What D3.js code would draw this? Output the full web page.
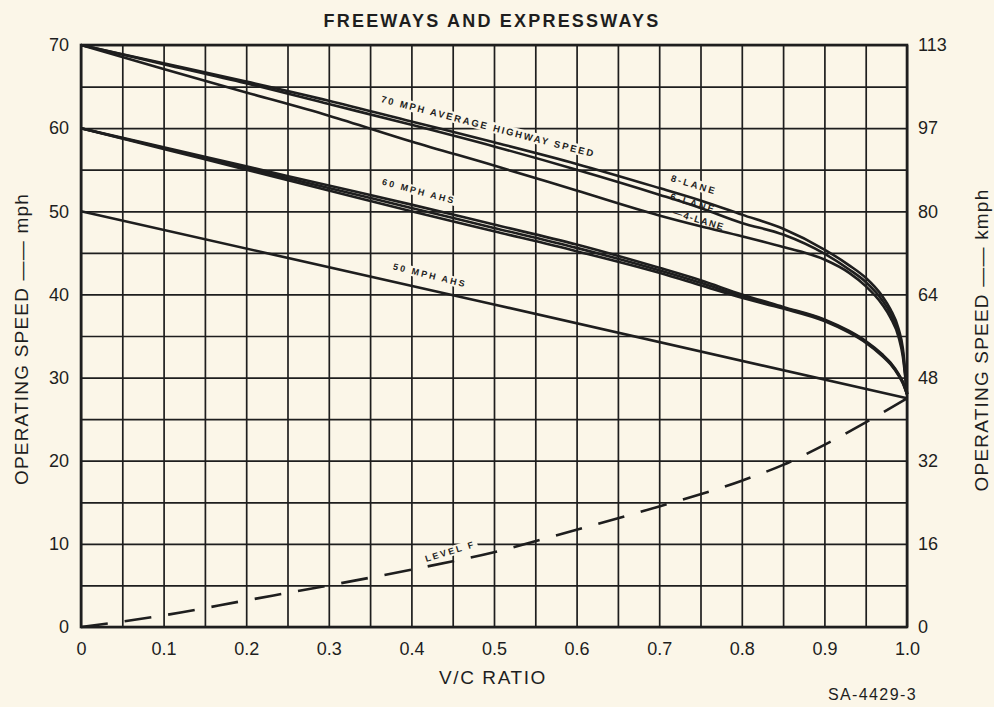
<!DOCTYPE html>
<html><head><meta charset="utf-8">
<script src="https://cdn.jsdelivr.net/npm/d3@7"></script>
<style>
html,body{margin:0;padding:0;background:#fbf6e8;}
svg{display:block;}
text{font-family:"Liberation Sans",Arial,Helvetica,sans-serif;fill:#1e1e1e;}
</style></head><body>
<svg id="c" width="994" height="707"></svg>
<script>
// ---- data ----
const vcTicks = [0,0.1,0.2,0.3,0.4,0.5,0.6,0.7,0.8,0.9,1.0];
const vcTickLabels = ["0","0.1","0.2","0.3","0.4","0.5","0.6","0.7","0.8","0.9","1.0"];
const mphTicks = [0,10,20,30,40,50,60,70];
const kmphLabels = ["0","16","32","48","64","80","97","113"];
const vcGrid = d3.range(0,21).map(i=>i/20);
const mphGrid = d3.range(0,15).map(i=>i*5);

const vcCurve = [0,0.1,0.2,0.3,0.4,0.5,0.6,0.7,0.75,0.8,0.85,0.9,0.93,0.95,0.97,0.98,0.99,0.995,1.0];
const mph70Lane8 = [70,67.8,65.6,63.3,60.8,58.3,55.7,52.8,51.3,49.6,47.9,45.4,43.5,42.0,39.8,38.2,35.8,33.5,28];
const mph70Lane6 = [70,67.7,65.4,62.9,60.4,57.8,55.0,52.0,50.4,48.6,47.2,44.9,43.0,41.5,39.3,37.7,35.2,33.0,28];
const mph70Lane4 = [70,67.1,64.3,61.5,58.4,55.5,52.5,49.5,48.2,47.0,45.7,44.2,42.6,41.0,38.8,37.2,34.8,32.5,28];
const mph60Lane8 = [60,57.7,55.4,53.1,50.8,48.4,46.0,43.2,41.7,40.0,38.5,37.0,35.6,34.4,32.8,31.8,30.4,29.5,28];
const mph60Lane6 = [60,57.6,55.2,52.8,50.4,48.0,45.6,42.9,41.4,39.8,38.4,36.9,35.5,34.3,32.7,31.7,30.3,29.4,28];
const mph60Lane4 = [60,57.5,55.0,52.5,50.0,47.6,45.2,42.6,41.1,39.6,38.3,36.8,35.4,34.2,32.6,31.6,30.2,29.3,28];
const vc50 = [0,0.5,1.0];
const mph50 = [50,38.8,27.5];
const vcLevelF = [0,0.1,0.2,0.3,0.4,0.5,0.6,0.7,0.8,0.85,0.9,0.95,1.0];
const mphLevelF = [0,1.4,3.2,5.0,6.9,9.0,11.7,14.5,17.6,19.5,21.9,24.6,27.5];

// ---- layout ----
const svg = d3.select("#c");
const L=81, R=907, T=45, B=627;
const x = d3.scaleLinear().domain([0,1]).range([L,R]);
const y = d3.scaleLinear().domain([0,70]).range([B,T]);
const ink = "#1e1e1e";
const bg = "#fbf6e8";

// grid
const gGrid = svg.append("g");
gGrid.append("g").attr("transform",`translate(0,${B})`)
  .call(d3.axisBottom(x).tickValues(vcGrid).tickSize(-(B-T)).tickFormat(""))
  .call(g=>g.select(".domain").remove())
  .call(g=>g.selectAll("line").attr("stroke",ink).attr("stroke-width",1.7));
gGrid.append("g").attr("transform",`translate(${L},0)`)
  .call(d3.axisLeft(y).tickValues(mphGrid).tickSize(-(R-L)).tickFormat(""))
  .call(g=>g.select(".domain").remove())
  .call(g=>g.selectAll("line").attr("stroke",ink).attr("stroke-width",1.7));

const gMask = svg.append("g");
const gCurves = svg.append("g");
const gLabels = svg.append("g");

// border
svg.append("rect").attr("x",L).attr("y",T).attr("width",R-L).attr("height",B-T)
  .attr("fill","none").attr("stroke",ink).attr("stroke-width",2.6);

// curves
const line = d3.line().curve(d3.curveMonotoneX).x(d=>x(d[0])).y(d=>y(d[1]));
function draw(xs, ys, dash){
  gCurves.append("path").datum(xs.map((v,i)=>[v,ys[i]]))
    .attr("d",line).attr("fill","none").attr("stroke",ink)
    .attr("stroke-width",2.6).attr("stroke-linejoin","round")
    .attr("stroke-dasharray",dash||null);
}
[mph70Lane8,mph70Lane6,mph70Lane4,mph60Lane8,mph60Lane6,mph60Lane4].forEach(s=>draw(vcCurve,s));
draw(vc50,mph50);
draw(vcLevelF,mphLevelF,"27,17");

// curve labels
function label(txt, vc, mph, ang, size, ls, mask){
  const tr = `translate(${x(vc)},${y(mph)}) rotate(${ang})`;
  const g = gLabels.append("g").attr("transform",tr);
  const t = g.append("text").attr("text-anchor","middle").attr("dy","0.35em")
    .attr("font-size",size).attr("font-weight","bold").attr("letter-spacing",ls).text(txt);
  if(mask!==false){
    const b = t.node().getBBox();
    gMask.append("rect").attr("transform",tr)
      .attr("x",b.x-2).attr("y",b.y).attr("width",b.width+4).attr("height",b.height)
      .attr("fill",bg);
  }
}
label("70 MPH AVERAGE HIGHWAY SPEED",0.493,60.2,14.5,9.5,2.0);
label("8-LANE",0.742,53.2,17,9.5,2.2);
label("6-LANE",0.741,51.0,17,9.5,2.2,false);
label("—4-LANE",0.748,49.0,17,9.5,1.4,false);
label("60 MPH AHS",0.409,52.4,15,9,2.2);
label("50 MPH AHS",0.4225,42.3,14,9,2.2);
label("LEVEL F",0.447,9.1,-17,9,2.2);

// axes labels
const tickFont = g=>g.selectAll("text").attr("font-size",18).attr("fill",ink)
  .attr("font-family","Liberation Sans, Arial, sans-serif");
const gx = svg.append("g").attr("transform",`translate(0,${B})`)
  .call(d3.axisBottom(x).tickValues(vcTicks).tickSize(0).tickPadding(15).tickFormat((d,i)=>vcTickLabels[i]));
gx.select(".domain").remove(); tickFont(gx);

const gy = svg.append("g").attr("transform",`translate(${L},0)`)
  .call(d3.axisLeft(y).tickValues(mphTicks).tickSize(0).tickPadding(12));
gy.select(".domain").remove(); tickFont(gy);

const gr = svg.append("g").attr("transform",`translate(${R},0)`)
  .call(d3.axisRight(y).tickValues(mphTicks).tickSize(0).tickPadding(11).tickFormat((d,i)=>kmphLabels[i]));
gr.select(".domain").remove(); tickFont(gr);

// titles
svg.append("text").attr("x",492).attr("y",27).attr("text-anchor","middle")
  .attr("font-size",18).attr("font-weight","bold").attr("letter-spacing",2.2)
  .text("FREEWAYS AND EXPRESSWAYS");
svg.append("text").attr("x",493).attr("y",684).attr("text-anchor","middle")
  .attr("font-size",19).attr("letter-spacing",1.6).text("V/C RATIO");
svg.append("text").attr("x",917).attr("y",700).attr("text-anchor","end")
  .attr("font-size",16).attr("letter-spacing",1.4).text("SA-4429-3");
svg.append("text").attr("transform","translate(28,339) rotate(-90)").attr("text-anchor","middle")
  .attr("font-size",19).attr("letter-spacing",1.2).text("OPERATING SPEED —— mph");
svg.append("text").attr("transform","translate(988,340) rotate(-90)").attr("text-anchor","middle")
  .attr("font-size",19).attr("letter-spacing",1.2).text("OPERATING SPEED —— kmph");
</script>
</body></html>
